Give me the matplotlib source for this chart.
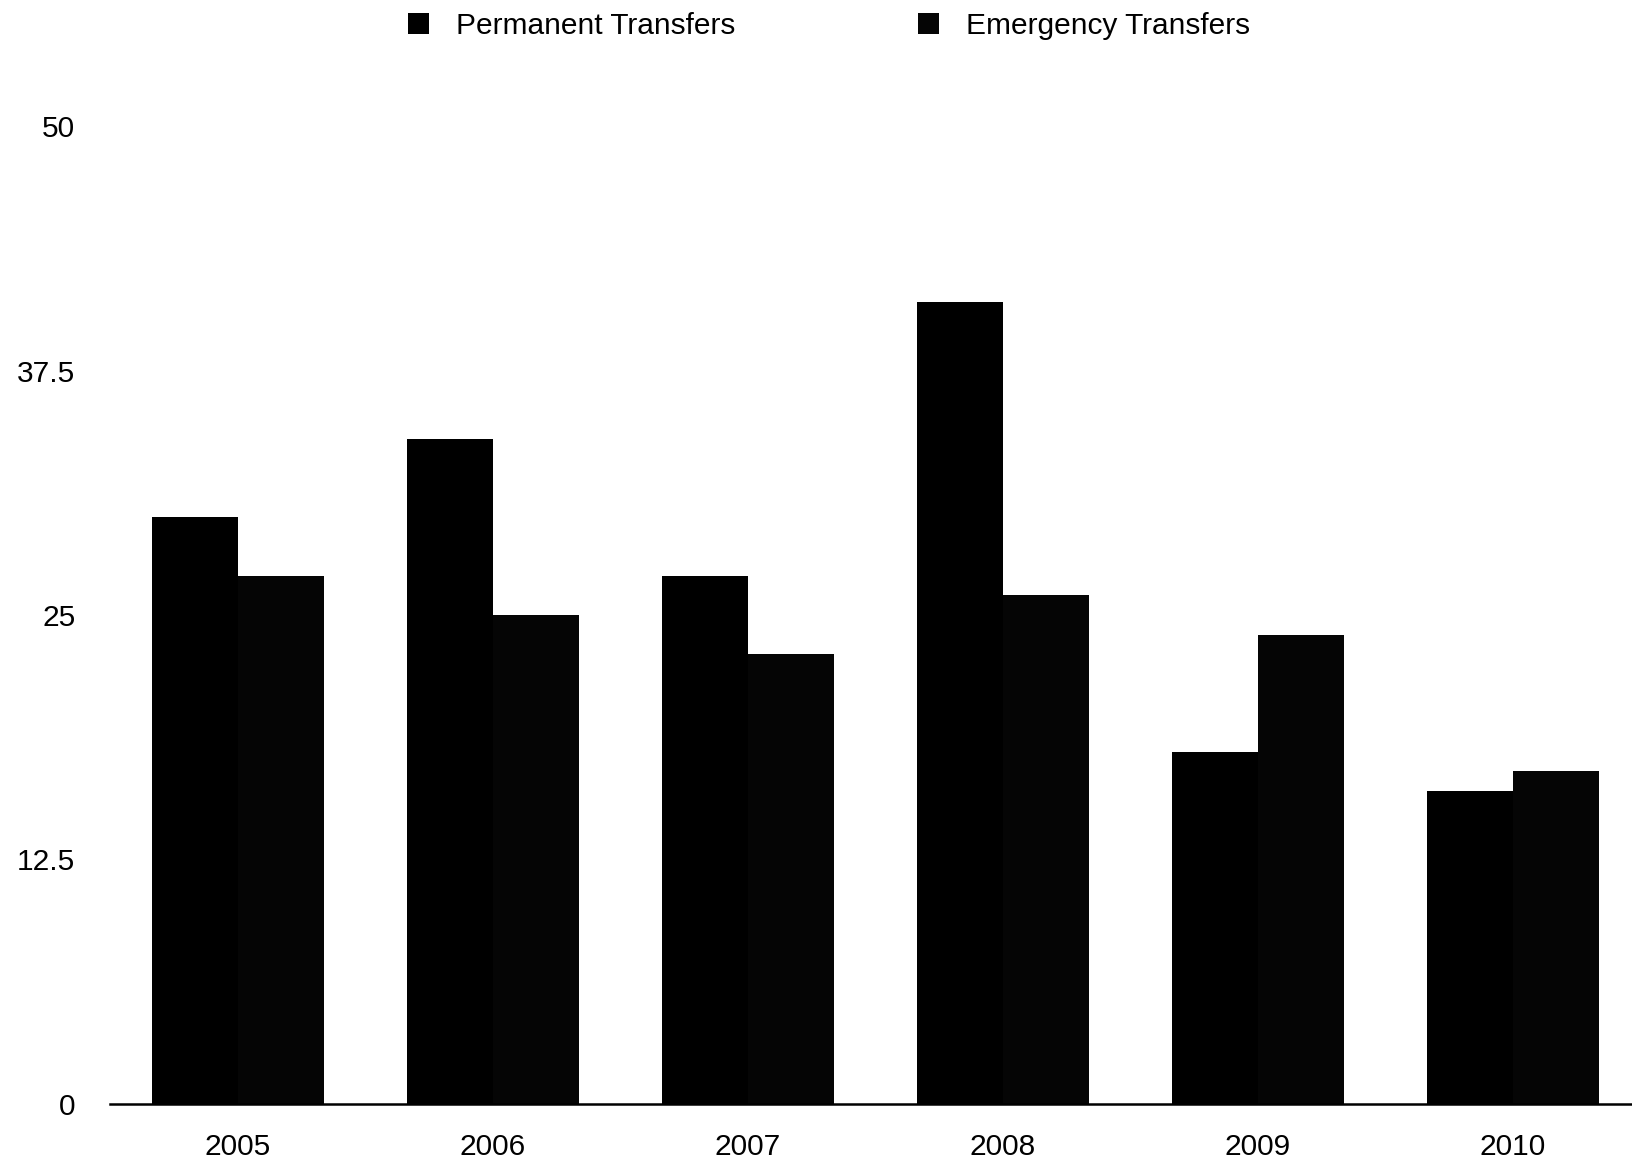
import matplotlib
matplotlib.use("Agg")
import matplotlib.pyplot as plt
import numpy as np

# dados
anos = ["2005", "2006", "2007", "2008", "2009", "2010"]
permanent = [30, 34, 27, 41, 18, 16]
emergency = [27, 25, 23, 26, 24, 17]
yticks = [0, 12.5, 25, 37.5, 50]
ytick_labels = ["0", "12.5", "25", "37.5", "50"]

plt.rcParams['font.family'] = ['Liberation Sans', 'DejaVu Sans']

fig = plt.figure(figsize=(16.32, 11.65), dpi=100)
ax = fig.add_axes([0.0674, 0.0524, 0.9326, 0.8394])

x = np.arange(len(anos))
w = 0.337
ax.bar(x - w / 2, permanent, w, color="#000000", label="Permanent Transfers")
ax.bar(x + w / 2, emergency, w, color="#050505", label="Emergency Transfers")

ax.set_xlim(-0.502, 5.467)
ax.set_ylim(0, 50)
ax.set_yticks(yticks)
ax.set_yticklabels(ytick_labels)
ax.set_xticks(x)
ax.set_xticklabels(anos)
ax.tick_params(axis="y", length=0, pad=25, labelsize=21.5)
ax.tick_params(axis="x", length=0, pad=21, labelsize=21.5)

for s in ["top", "right", "left"]:
    ax.spines[s].set_visible(False)
ax.spines["bottom"].set_linewidth(1.8)

fig.legend(loc="center", bbox_to_anchor=(0.508, 0.978), ncol=2, frameon=False,
           fontsize=21.5, handlelength=0.72, handleheight=0.72,
           handletextpad=0.9, columnspacing=6.1)

fig.savefig("out.png", dpi=100)
